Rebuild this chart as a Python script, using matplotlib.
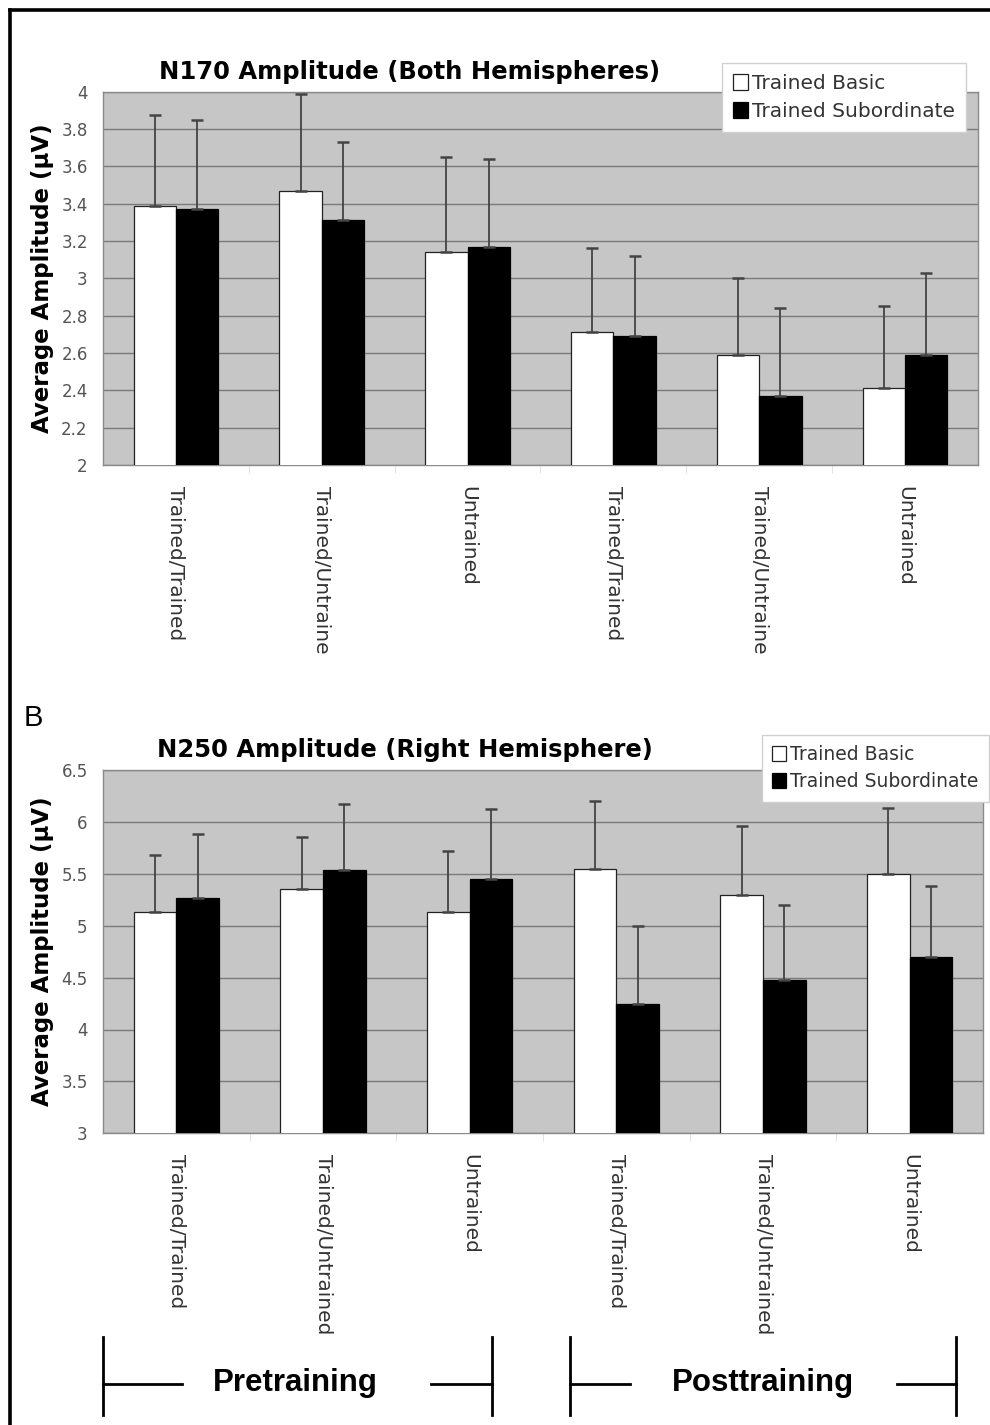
import numpy as np
import matplotlib
matplotlib.use("Agg")
import matplotlib.pyplot as plt
from matplotlib.lines import Line2D

# categories
labels_a = ["Trained/Trained", "Trained/Untraine", "Untrained",
            "Trained/Trained", "Trained/Untraine", "Untrained"]
labels_b = ["Trained/Trained", "Trained/Untrained", "Untrained",
            "Trained/Trained", "Trained/Untrained", "Untrained"]
series = ["Trained Basic", "Trained Subordinate"]

# N170 (both hemispheres)
n170_basic = [3.39, 3.47, 3.14, 2.71, 2.59, 2.41]
n170_basic_err = [0.485, 0.52, 0.51, 0.45, 0.41, 0.44]
n170_sub = [3.37, 3.31, 3.17, 2.69, 2.37, 2.59]
n170_sub_err = [0.48, 0.42, 0.47, 0.43, 0.47, 0.44]

# N250 (right hemisphere)
n250_basic = [5.13, 5.35, 5.13, 5.55, 5.30, 5.50]
n250_basic_err = [0.55, 0.50, 0.59, 0.65, 0.66, 0.63]
n250_sub = [5.27, 5.54, 5.45, 4.25, 4.48, 4.70]
n250_sub_err = [0.61, 0.63, 0.67, 0.75, 0.72, 0.68]

W, H = 990, 1425
fig = plt.figure(figsize=(W / 100, H / 100), dpi=100)


def fx(px):
    return px / W


def fy(py):
    return 1 - py / H


def panel(rect, basic, basic_err, sub, sub_err, labels, ylim, step, title, title_xy,
          leg_xy, leg_fs):
    ax = fig.add_axes(rect)
    ax.set_facecolor("#c6c6c6")
    x = np.arange(len(labels))
    w = 0.29
    ax.bar(x - w / 2, basic, w, color="white", edgecolor="#222222", linewidth=0.9,
           label=series[0], zorder=3)
    ax.bar(x + w / 2, sub, w, color="black", edgecolor="black", linewidth=0.9,
           label=series[1], zorder=3)
    zeros = np.zeros(len(labels))
    ax.errorbar(x - w / 2, basic, yerr=[zeros, basic_err], fmt="none", ecolor="#444444",
                elinewidth=1.3, capsize=4, capthick=1.8, zorder=4)
    ax.errorbar(x + w / 2, sub, yerr=[zeros, sub_err], fmt="none", ecolor="#444444",
                elinewidth=1.3, capsize=4, capthick=1.8, zorder=4)
    ax.set_xlim(-0.5, len(labels) - 0.5)
    ax.set_ylim(*ylim)
    ticks = np.arange(ylim[0], ylim[1] + step / 2, step)
    ax.set_yticks(ticks)
    ax.set_yticklabels(["%g" % round(t, 2) for t in ticks])
    ax.yaxis.grid(True, color="#7a7a7a", linewidth=1.0, zorder=0)
    ax.set_axisbelow(True)
    ax.tick_params(axis="y", length=0, pad=11, labelsize=12, labelcolor="#555555")
    ax.set_xticks(x)
    ax.set_xticklabels(labels, rotation=-90, fontsize=14.5, color="#333333",
                       va="top", ha="center")
    ax.tick_params(axis="x", length=0, pad=15)
    ax.set_xticks(np.arange(0.5, len(labels) - 1, 1), minor=True)
    ax.tick_params(axis="x", which="minor", length=6, color="#dddddd")
    for s in ax.spines.values():
        s.set_color("#8a8a8a")
        s.set_linewidth(1.0)
    ax.set_ylabel("Average Amplitude (\u03bcV)", fontsize=16.5, fontweight="bold")
    ax.yaxis.set_label_coords(-0.056, 0.5)
    fig.text(fx(title_xy[0]), fy(title_xy[1]), title, fontsize=17.5, fontweight="bold",
             ha="center", va="center")
    leg = ax.legend(loc="upper left", bbox_to_anchor=(fx(leg_xy[0]), fy(leg_xy[1])),
                    bbox_transform=fig.transFigure, borderaxespad=0, frameon=True,
                    fancybox=False, framealpha=1, edgecolor="#d0d0d0", fontsize=leg_fs,
                    handlelength=0.75, handleheight=0.85, handletextpad=0.2,
                    labelspacing=0.42, borderpad=0.55, labelcolor="#333333")
    leg.get_frame().set_linewidth(1.0)
    leg.set_zorder(10)
    return ax


panel([fx(103), fy(465), (978 - 103) / W, (465 - 91.7) / H],
      n170_basic, n170_basic_err, n170_sub, n170_sub_err, labels_a,
      (2, 4), 0.2, "N170 Amplitude (Both Hemispheres)", (410, 72), (722, 63), 14.5)

panel([fx(103), fy(1133.3), (983 - 103) / W, (1133.3 - 770) / H],
      n250_basic, n250_basic_err, n250_sub, n250_sub_err, labels_b,
      (3, 6.5), 0.5, "N250 Amplitude (Right Hemisphere)", (405, 750), (762, 735), 13.5)

fig.text(fx(24), fy(718), "B", fontsize=21, family="Liberation Sans", ha="left", va="center")


def seg(x0, y0, x1, y1, lw=2.0):
    fig.add_artist(Line2D([fx(x0), fx(x1)], [fy(y0), fy(y1)], color="black",
                          linewidth=lw, transform=fig.transFigure))


# outer frame (top and left)
seg(10, 10, 990, 10, lw=2.6)
seg(10, 10, 10, 1425, lw=2.6)

# pre/post brackets
for xl, xr, hl, hr, cx, name in [(103, 492, 182, 431, 295, "Pretraining"),
                                 (570, 956, 630, 897, 763, "Posttraining")]:
    seg(xl, 1337, xl, 1415)
    seg(xr, 1337, xr, 1415)
    seg(xl, 1384, hl, 1384)
    seg(hr, 1384, xr, 1384)
    fig.text(fx(cx), fy(1383), name, fontsize=22.5, fontweight="bold",
             family="Liberation Sans", ha="center", va="center")

fig.savefig("out.png", dpi=100)
